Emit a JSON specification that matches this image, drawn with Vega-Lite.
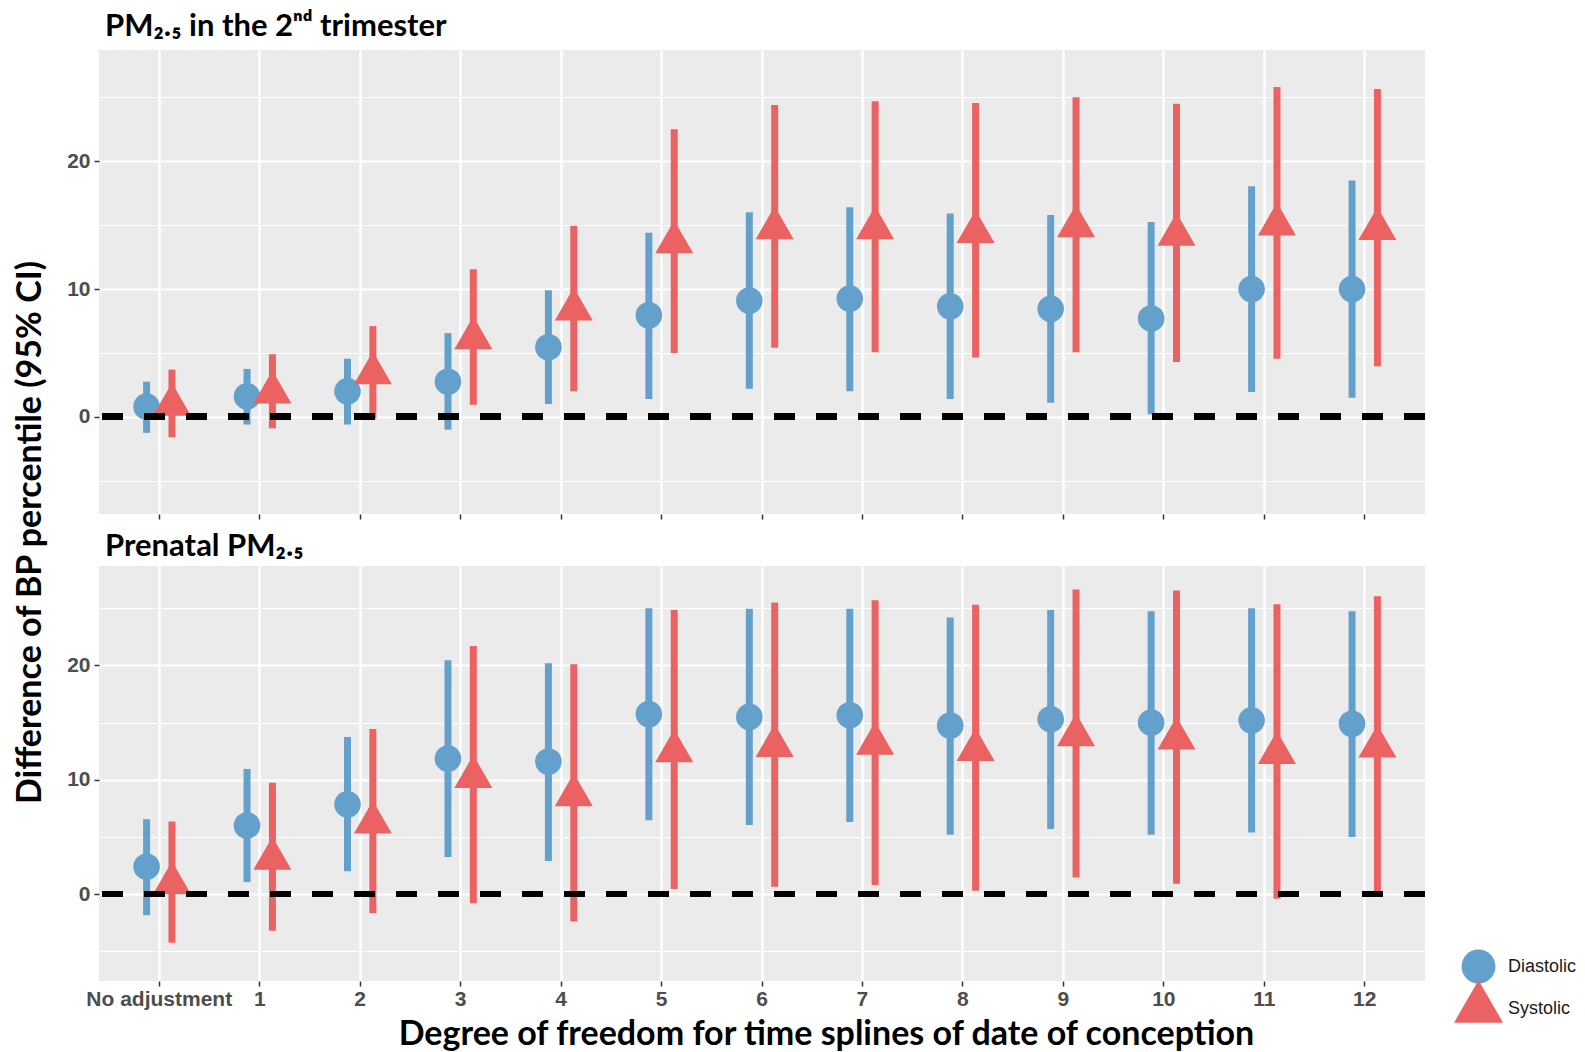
{
  "$schema": "https://vega.github.io/schema/vega-lite/v6.json",
  "background": "white",
  "padding": {"left": 13, "top": 11, "right": 5, "bottom": 0},
  "bounds": "flush",
  "spacing": 52,
  "data": {"values": [
    {"p":"T","df":"No adjustment","bp":"Diastolic","est":0.8,"lo":-1.25,"hi":2.75},
    {"p":"T","df":"No adjustment","bp":"Systolic","est":0.95,"lo":-1.6,"hi":3.7},
    {"p":"T","df":"1","bp":"Diastolic","est":1.6,"lo":-0.6,"hi":3.75},
    {"p":"T","df":"1","bp":"Systolic","est":1.9,"lo":-0.9,"hi":4.9},
    {"p":"T","df":"2","bp":"Diastolic","est":2.0,"lo":-0.6,"hi":4.55},
    {"p":"T","df":"2","bp":"Systolic","est":3.4,"lo":-0.15,"hi":7.1},
    {"p":"T","df":"3","bp":"Diastolic","est":2.75,"lo":-1.0,"hi":6.55},
    {"p":"T","df":"3","bp":"Systolic","est":6.15,"lo":0.95,"hi":11.55},
    {"p":"T","df":"4","bp":"Diastolic","est":5.45,"lo":1.0,"hi":9.9},
    {"p":"T","df":"4","bp":"Systolic","est":8.4,"lo":2.0,"hi":14.95},
    {"p":"T","df":"5","bp":"Diastolic","est":7.95,"lo":1.4,"hi":14.4},
    {"p":"T","df":"5","bp":"Systolic","est":13.65,"lo":5.0,"hi":22.5},
    {"p":"T","df":"6","bp":"Diastolic","est":9.1,"lo":2.2,"hi":16.0},
    {"p":"T","df":"6","bp":"Systolic","est":14.75,"lo":5.4,"hi":24.4},
    {"p":"T","df":"7","bp":"Diastolic","est":9.25,"lo":2.0,"hi":16.4},
    {"p":"T","df":"7","bp":"Systolic","est":14.75,"lo":5.05,"hi":24.7},
    {"p":"T","df":"8","bp":"Diastolic","est":8.65,"lo":1.4,"hi":15.9},
    {"p":"T","df":"8","bp":"Systolic","est":14.45,"lo":4.65,"hi":24.55},
    {"p":"T","df":"9","bp":"Diastolic","est":8.45,"lo":1.1,"hi":15.8},
    {"p":"T","df":"9","bp":"Systolic","est":14.9,"lo":5.05,"hi":25.0},
    {"p":"T","df":"10","bp":"Diastolic","est":7.7,"lo":0.2,"hi":15.25},
    {"p":"T","df":"10","bp":"Systolic","est":14.25,"lo":4.3,"hi":24.5},
    {"p":"T","df":"11","bp":"Diastolic","est":10.0,"lo":1.95,"hi":18.05},
    {"p":"T","df":"11","bp":"Systolic","est":15.05,"lo":4.55,"hi":25.8},
    {"p":"T","df":"12","bp":"Diastolic","est":10.0,"lo":1.5,"hi":18.5},
    {"p":"T","df":"12","bp":"Systolic","est":14.7,"lo":3.95,"hi":25.65},
    {"p":"P","df":"No adjustment","bp":"Diastolic","est":2.4,"lo":-1.85,"hi":6.55},
    {"p":"P","df":"No adjustment","bp":"Systolic","est":0.95,"lo":-4.25,"hi":6.35},
    {"p":"P","df":"1","bp":"Diastolic","est":6.0,"lo":1.05,"hi":10.95},
    {"p":"P","df":"1","bp":"Systolic","est":3.1,"lo":-3.2,"hi":9.75},
    {"p":"P","df":"2","bp":"Diastolic","est":7.85,"lo":2.0,"hi":13.75},
    {"p":"P","df":"2","bp":"Systolic","est":6.25,"lo":-1.65,"hi":14.45},
    {"p":"P","df":"3","bp":"Diastolic","est":11.85,"lo":3.25,"hi":20.45},
    {"p":"P","df":"3","bp":"Systolic","est":10.25,"lo":-0.8,"hi":21.7},
    {"p":"P","df":"4","bp":"Diastolic","est":11.6,"lo":2.9,"hi":20.2},
    {"p":"P","df":"4","bp":"Systolic","est":8.65,"lo":-2.4,"hi":20.1},
    {"p":"P","df":"5","bp":"Diastolic","est":15.75,"lo":6.45,"hi":25.0},
    {"p":"P","df":"5","bp":"Systolic","est":12.5,"lo":0.45,"hi":24.85},
    {"p":"P","df":"6","bp":"Diastolic","est":15.5,"lo":6.05,"hi":24.95},
    {"p":"P","df":"6","bp":"Systolic","est":12.95,"lo":0.65,"hi":25.5},
    {"p":"P","df":"7","bp":"Diastolic","est":15.65,"lo":6.3,"hi":24.95},
    {"p":"P","df":"7","bp":"Systolic","est":13.15,"lo":0.8,"hi":25.7},
    {"p":"P","df":"8","bp":"Diastolic","est":14.75,"lo":5.2,"hi":24.2},
    {"p":"P","df":"8","bp":"Systolic","est":12.6,"lo":0.3,"hi":25.3},
    {"p":"P","df":"9","bp":"Diastolic","est":15.3,"lo":5.7,"hi":24.85},
    {"p":"P","df":"9","bp":"Systolic","est":13.9,"lo":1.45,"hi":26.65},
    {"p":"P","df":"10","bp":"Diastolic","est":15.0,"lo":5.2,"hi":24.75},
    {"p":"P","df":"10","bp":"Systolic","est":13.6,"lo":0.9,"hi":26.55},
    {"p":"P","df":"11","bp":"Diastolic","est":15.2,"lo":5.4,"hi":25.0},
    {"p":"P","df":"11","bp":"Systolic","est":12.35,"lo":-0.4,"hi":25.35},
    {"p":"P","df":"12","bp":"Diastolic","est":14.9,"lo":5.0,"hi":24.75},
    {"p":"P","df":"12","bp":"Systolic","est":12.9,"lo":0.05,"hi":26.05}
  ]},
  "config": {
    "view": {"fill": "#EBEBEB", "stroke": null},
    "axis": {
      "domain": false,
      "gridColor": "#FFFFFF",
      "tickColor": "#333333",
      "tickSize": 5,
      "tickWidth": 1.5,
      "labelFont": "Liberation Sans",
      "labelFontWeight": "bold",
      "labelFontSize": 21,
      "labelColor": "#4D4D4D",
      "labelPadding": 2,
      "titleFont": "Lato",
      "titleFontWeight": "bold",
      "titleFontSize": 34,
      "titleColor": "#000000"
    },
    "legend": {
      "title": null, "orient": "none", "legendX": 1355, "legendY": 892, "symbolSize": 1300, "rowPadding": -15, "labelOffset": 5,
      "labelFont": "Liberation Sans", "labelFontSize": 18, "labelColor": "#1A1A1A", "symbolStrokeWidth": 0, "symbolOpacity": 1
    },
    "title": {"font": "Lato", "fontWeight": "bold", "fontSize": 31, "color": "#000000", "anchor": "start", "frame": "group", "offset": 7, "dx": 6}
  },
  "resolve": {"scale": {"x": "independent", "y": "independent"}},
  "vconcat": [
    {
      "width": 1326,
      "height": 464,
      "title": {"text": "PM₂.₅ in the 2ⁿᵈ trimester", "offset": 7},
      "transform": [{"filter": "datum.p === 'T'"}],
      "layer": [
        {
          "mark": {"type": "rule", "strokeWidth": 7},
          "encoding": {
            "x": {"field": "df", "type": "nominal", "sort": ["No adjustment","1","2","3","4","5","6","7","8","9","10","11","12"], "scale": {"paddingInner": 0, "paddingOuter": 0.1},
                  "axis": {"labels": false, "title": null, "grid": true, "gridWidth": 2.5, "bandPosition": 0.5, "ticks": true}},
            "xOffset": {"field": "bp", "type": "nominal", "scale": {"paddingInner": 0, "paddingOuter": 0.98}},
            "y": {"field": "lo", "type": "quantitative", "scale": {"domain": [-7.6, 28.7], "nice": false, "zero": false},
                  "axis": {"values": [-5,0,5,10,15,20,25], "labelExpr": "datum.value % 10 === 0 ? datum.label : ''", "labelPadding": 4,
                           "gridWidth": {"condition": {"test": "datum.value % 10 === 0", "value": 2}, "value": 1},
                           "tickOpacity": {"condition": {"test": "datum.value % 10 === 0", "value": 1}, "value": 0},
                           "title": "Difference of BP percentile (95% CI)", "titleAngle": -90, "titleX": -52, "titleY": 482, "titleAlign": "center", "titleBaseline": "bottom"}},
            "y2": {"field": "hi"},
            "color": {"field": "bp", "type": "nominal", "scale": {"domain": ["Diastolic","Systolic"], "range": ["#64A0CC","#EB6262"]},
                      "legend": {"encode": {"symbols": {"update": {"size": {"signal": "datum.value === 'Diastolic' ? 1150 : 2400"}}}}}}
          }
        },
        {
          "transform": [{"filter": "datum.bp === 'Diastolic'"}],
          "mark": {"type": "point", "filled": true, "opacity": 1, "size": 707},
          "encoding": {
            "x": {"field": "df", "type": "nominal", "sort": ["No adjustment","1","2","3","4","5","6","7","8","9","10","11","12"]},
            "xOffset": {"field": "bp", "type": "nominal", "scale": {"domain": ["Diastolic","Systolic"]}},
            "y": {"field": "est", "type": "quantitative"},
            "color": {"field": "bp", "type": "nominal"},
            "shape": {"field": "bp", "type": "nominal", "scale": {"domain": ["Diastolic","Systolic"], "range": ["circle", "M0,-1.155L1,0.577L-1,0.577Z"]}}
          }
        },
        {
          "transform": [{"filter": "datum.bp === 'Systolic'"}],
          "mark": {"type": "point", "filled": true, "opacity": 1, "size": 1444},
          "encoding": {
            "x": {"field": "df", "type": "nominal", "sort": ["No adjustment","1","2","3","4","5","6","7","8","9","10","11","12"]},
            "xOffset": {"field": "bp", "type": "nominal", "scale": {"domain": ["Diastolic","Systolic"]}},
            "y": {"field": "est", "type": "quantitative"},
            "color": {"field": "bp", "type": "nominal"},
            "shape": {"field": "bp", "type": "nominal"}
          }
        },
        {
          "mark": {"type": "rule", "color": "#000000", "strokeWidth": 6, "strokeDash": [21, 21]},
          "encoding": {"y": {"datum": 0}}
        }
      ]
    },
    {
      "width": 1326,
      "height": 415,
      "title": {"text": "Prenatal PM₂.₅", "offset": 3},
      "transform": [{"filter": "datum.p === 'P'"}],
      "layer": [
        {
          "mark": {"type": "rule", "strokeWidth": 7},
          "encoding": {
            "x": {"field": "df", "type": "nominal", "sort": ["No adjustment","1","2","3","4","5","6","7","8","9","10","11","12"], "scale": {"paddingInner": 0, "paddingOuter": 0.1},
                  "axis": {"labelAngle": 0, "labelOverlap": false, "grid": true, "gridWidth": 2.5, "bandPosition": 0.5,
                           "title": "Degree of freedom for time splines of date of conception", "titleX": 727, "titleY": 53, "titleAlign": "center", "titleBaseline": "middle"}},
            "xOffset": {"field": "bp", "type": "nominal", "scale": {"paddingInner": 0, "paddingOuter": 0.98}},
            "y": {"field": "lo", "type": "quantitative", "scale": {"domain": [-7.6, 28.7], "nice": false, "zero": false},
                  "axis": {"values": [-5,0,5,10,15,20,25], "labelExpr": "datum.value % 10 === 0 ? datum.label : ''", "labelPadding": 4,
                           "gridWidth": {"condition": {"test": "datum.value % 10 === 0", "value": 2}, "value": 1},
                           "tickOpacity": {"condition": {"test": "datum.value % 10 === 0", "value": 1}, "value": 0},
                           "title": null}},
            "y2": {"field": "hi"},
            "color": {"field": "bp", "type": "nominal"}
          }
        },
        {
          "transform": [{"filter": "datum.bp === 'Diastolic'"}],
          "mark": {"type": "point", "filled": true, "opacity": 1, "size": 707},
          "encoding": {
            "x": {"field": "df", "type": "nominal", "sort": ["No adjustment","1","2","3","4","5","6","7","8","9","10","11","12"]},
            "xOffset": {"field": "bp", "type": "nominal", "scale": {"domain": ["Diastolic","Systolic"]}},
            "y": {"field": "est", "type": "quantitative"},
            "color": {"field": "bp", "type": "nominal"},
            "shape": {"field": "bp", "type": "nominal"}
          }
        },
        {
          "transform": [{"filter": "datum.bp === 'Systolic'"}],
          "mark": {"type": "point", "filled": true, "opacity": 1, "size": 1444},
          "encoding": {
            "x": {"field": "df", "type": "nominal", "sort": ["No adjustment","1","2","3","4","5","6","7","8","9","10","11","12"]},
            "xOffset": {"field": "bp", "type": "nominal", "scale": {"domain": ["Diastolic","Systolic"]}},
            "y": {"field": "est", "type": "quantitative"},
            "color": {"field": "bp", "type": "nominal"},
            "shape": {"field": "bp", "type": "nominal"}
          }
        },
        {
          "mark": {"type": "rule", "color": "#000000", "strokeWidth": 6, "strokeDash": [21, 21]},
          "encoding": {"y": {"datum": 0}}
        }
      ]
    }
  ]
}
